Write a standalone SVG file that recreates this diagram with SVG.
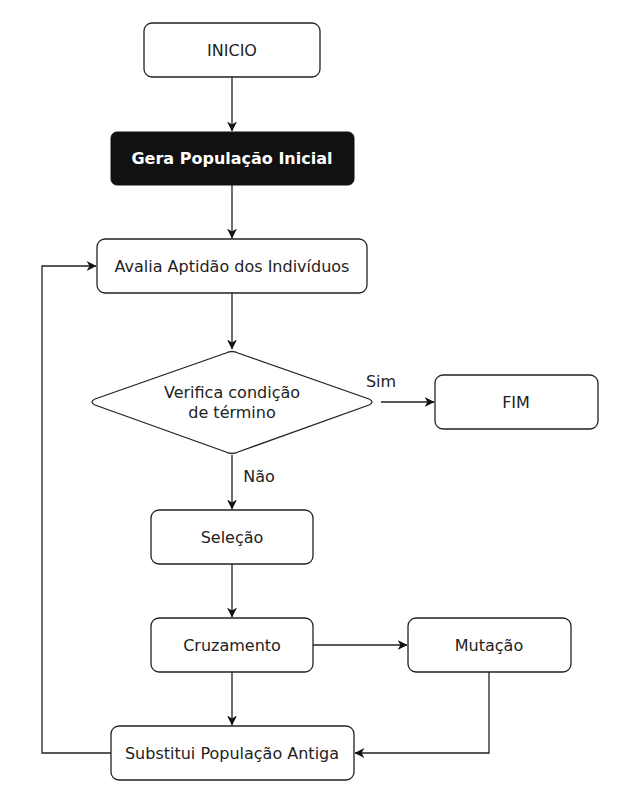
<svg xmlns="http://www.w3.org/2000/svg" width="625" height="811" viewBox="0 0 625 811">
<style>
.box{fill:#fff;stroke:#222;stroke-width:1.3}
.t{font-family:"DejaVu Sans",Verdana,sans-serif;font-size:16px;fill:#222;text-anchor:middle;dominant-baseline:central}
.tb{font-family:"DejaVu Sans",Verdana,sans-serif;font-size:16px;font-weight:bold;fill:#fff;text-anchor:middle;dominant-baseline:central}
.c{fill:none;stroke:#222;stroke-width:1.3}
</style>
<defs>
<marker id="ah" viewBox="0 0 10 10" refX="9.5" refY="5" markerWidth="10" markerHeight="10" markerUnits="userSpaceOnUse" orient="auto">
<path d="M0,0 L10,5 L0,10 L3,5 Z" fill="#111"/>
</marker>
</defs>
<rect width="625" height="811" fill="#fff"/>
<g id="connectors">
<path class="c" d="M232,77 V131" marker-end="url(#ah)"/>
<path class="c" d="M232,185 V238" marker-end="url(#ah)"/>
<path class="c" d="M232,293 V349" marker-end="url(#ah)"/>
<path class="c" d="M381,402 H434" marker-end="url(#ah)"/>
<path class="c" d="M232,455 V509" marker-end="url(#ah)"/>
<path class="c" d="M232,564 V617" marker-end="url(#ah)"/>
<path class="c" d="M313,645 H407" marker-end="url(#ah)"/>
<path class="c" d="M232,672 V725" marker-end="url(#ah)"/>
<path class="c" d="M489,672 V753 H355" marker-end="url(#ah)"/>
<path class="c" d="M111,753 H42 V266 H96" marker-end="url(#ah)"/>
<text class="t" x="381" y="381">Sim</text>
<text class="t" x="259" y="476">Não</text>
</g>
<g id="inicio">
<rect class="box" x="144" y="23" width="176" height="54" rx="8"/>
<text class="t" x="232" y="50">INICIO</text>
</g>
<g id="gera">
<rect x="111" y="132" width="243" height="53" rx="6" fill="#111" stroke="#111"/>
<text class="tb" x="232" y="158">Gera População Inicial</text>
</g>
<g id="avalia">
<rect class="box" x="97" y="239" width="270" height="54" rx="8"/>
<text class="t" x="232" y="266">Avalia Aptidão dos Indivíduos</text>
</g>
<g id="verifica">
<path class="box" d="M226,353 Q232,350 238,353 L369,399 Q375,402 369,405 L238,452 Q232,455 226,452 L95,405 Q89,402 95,399 Z"/>
<text class="t" x="232" y="392">Verifica condição</text>
<text class="t" x="232" y="412">de término</text>
</g>
<g id="fim">
<rect class="box" x="435" y="375" width="163" height="54" rx="8"/>
<text class="t" x="516" y="402">FIM</text>
</g>
<g id="selecao">
<rect class="box" x="151" y="510" width="162" height="54" rx="8"/>
<text class="t" x="232" y="537">Seleção</text>
</g>
<g id="cruzamento">
<rect class="box" x="151" y="618" width="162" height="54" rx="8"/>
<text class="t" x="232" y="645">Cruzamento</text>
</g>
<g id="mutacao">
<rect class="box" x="408" y="618" width="163" height="54" rx="8"/>
<text class="t" x="489" y="645">Mutação</text>
</g>
<g id="substitui">
<rect class="box" x="111" y="726" width="243" height="54" rx="8"/>
<text class="t" x="232" y="753">Substitui População Antiga</text>
</g>
</svg>
